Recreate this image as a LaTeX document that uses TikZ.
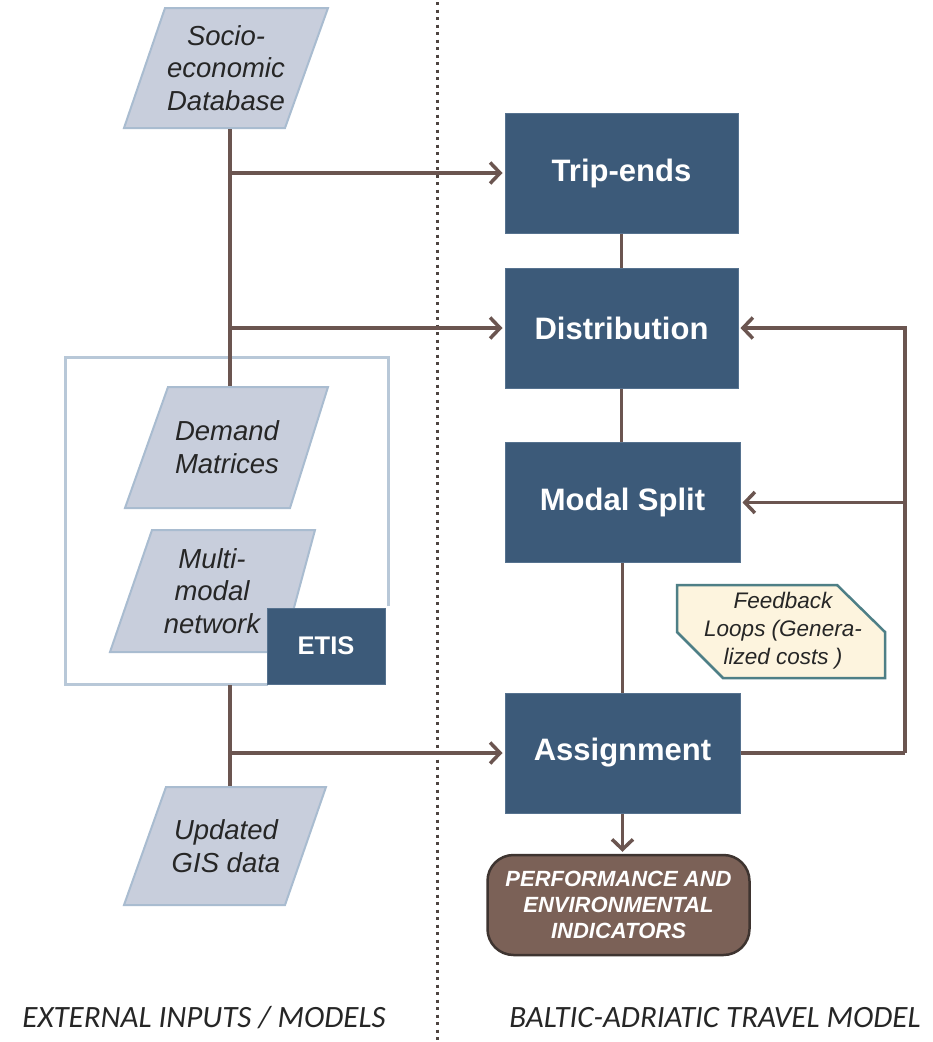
\documentclass[tikz,border=0pt]{standalone}
\usepackage{fontspec}
\setmainfont{Liberation Sans}
\newfontfamily\calib{Carlito}
\usetikzlibrary{arrows.meta}
\definecolor{boxblue}{HTML}{3C5A79}
\definecolor{boxedge}{HTML}{56728F}
\definecolor{parfill}{HTML}{C8CEDC}
\definecolor{paredge}{HTML}{A9BCD0}
\definecolor{linebrown}{HTML}{6B5550}
\definecolor{dotcol}{HTML}{4E4440}
\definecolor{perffill}{HTML}{7B6157}
\definecolor{perfedge}{HTML}{3E3430}
\definecolor{outeredge}{HTML}{B8C8D8}
\definecolor{notefill}{HTML}{FDF4DE}
\definecolor{noteedge}{HTML}{4E7F86}
\tikzset{
  mainbox/.style={fill=boxblue,draw=boxedge,line width=1pt,text=white,
    font=\fontsize{31}{34}\selectfont\bfseries,minimum width=233pt,minimum height=120pt,inner sep=0pt},
  par/.style={fill=parfill,draw=paredge,line width=2pt},
  partext/.style={font=\fontsize{27.5}{32.5}\selectfont\itshape,align=center,text=black!85,inner sep=0pt},
  conn/.style={draw=linebrown,line width=3.5pt},
  arr/.style={conn,shorten >=2pt,-{Straight Barb[length=10pt,width=21pt,line width=3.5pt]}},
  label/.style={font=\calib\fontsize{31}{34}\selectfont\itshape,text=black!85,inner sep=0pt}
}
\begin{document}
\begin{tikzpicture}[x=1pt,y=-1pt]
\useasboundingbox[fill=white] (0,0) rectangle (933,1042);
% dotted divider
\draw[dotcol,line width=3pt,dash pattern=on 3pt off 4.5pt] (437,2) -- (437,1042);
% outer box
\draw[outeredge,line width=3pt] (388,606) -- (388,357) -- (65,357) -- (65,684) -- (268,684);
% parallelograms
\draw[par] (165,8) -- (328,8) -- (285,128) -- (124,128) -- cycle;
\node[partext] (socio) at (226,68) {Socio-\\economic\\Database};
\draw[par] (168,387) -- (328,387) -- (290,508) -- (125,508) -- cycle;
\node[partext] (demand) at (227,447) {Demand\\Matrices};
\draw[par] (152,530) -- (315,530) -- (282,652) -- (110,652) -- cycle;
\node[partext] (multi) at (212,591) {Multi-\\modal\\network};
\draw[par] (166,787) -- (326,787) -- (285,905) -- (124,905) -- cycle;
\node[partext] (gis) at (226,846) {Updated\\GIS data};
% ETIS
\node[mainbox,minimum width=118pt,minimum height=76pt,font=\fontsize{25.5}{28}\selectfont\bfseries] (etis) at (326,646) {ETIS};
% trunk coordinates
\coordinate (t1) at (230,129);
\coordinate (t2) at (230,386);
\coordinate (t3) at (230,685);
\coordinate (t4) at (230,786);
\draw[conn] (t1) -- (t2);
\draw[conn] (t3) -- (t4);
% main boxes
\node[mainbox] (trip) at (621.5,173) {Trip-ends};
\node[mainbox] (dist) at (621.5,328) {Distribution};
\node[mainbox,minimum width=235pt] (modal) at (622.5,502.5) {Modal Split};
\node[mainbox,minimum width=235pt] (assign) at (622.5,753) {Assignment};
\node[fill=perffill,draw=perfedge,line width=2.5pt,rounded corners=26pt,minimum width=262pt,minimum height=100pt,
  text=white,align=center,inner sep=0pt,font=\fontsize{22}{26}\selectfont\bfseries\itshape] (perf) at (618.5,905)
  {PERFORMANCE AND\\ENVIRONMENTAL\\INDICATORS};
% inputs arrows
\draw[arr] (t1 |- trip.west) -- (trip.west);
\draw[arr] (t1 |- dist.west) -- (dist.west);
\draw[arr] (t3 |- assign.west) -- (assign.west);
% chain
\draw[conn] (trip.south) -- (trip.south |- dist.north);
\draw[conn] (dist.south) -- (dist.south |- modal.north);
\draw[conn] (modal.south) -- (assign.north);
\draw[arr] (assign.south) -- (assign.south |- perf.north);
% feedback
\coordinate (fb) at (905,753);
\draw[conn] (assign.east) -- (fb);
\draw[arr] (fb) |- (dist.east);
\draw[arr] (fb |- modal.east) -- (modal.east);
% note
\draw[fill=notefill,draw=noteedge,line width=2.5pt] (677,585) -- (837,585) -- (885,632) -- (885,678) -- (723,678) -- (677,632) -- cycle;
\node[font=\fontsize{22.5}{28}\selectfont\itshape,align=center,text=black!85,inner sep=0pt] (note) at (783,631)
  {Feedback\\Loops (Genera-\\lized costs )};
% labels
\node[label] (lleft) at (204,1018) {EXTERNAL INPUTS / MODELS};
\node[label] (lright) at (715,1018) {BALTIC-ADRIATIC TRAVEL MODEL};
\end{tikzpicture}
\end{document}
